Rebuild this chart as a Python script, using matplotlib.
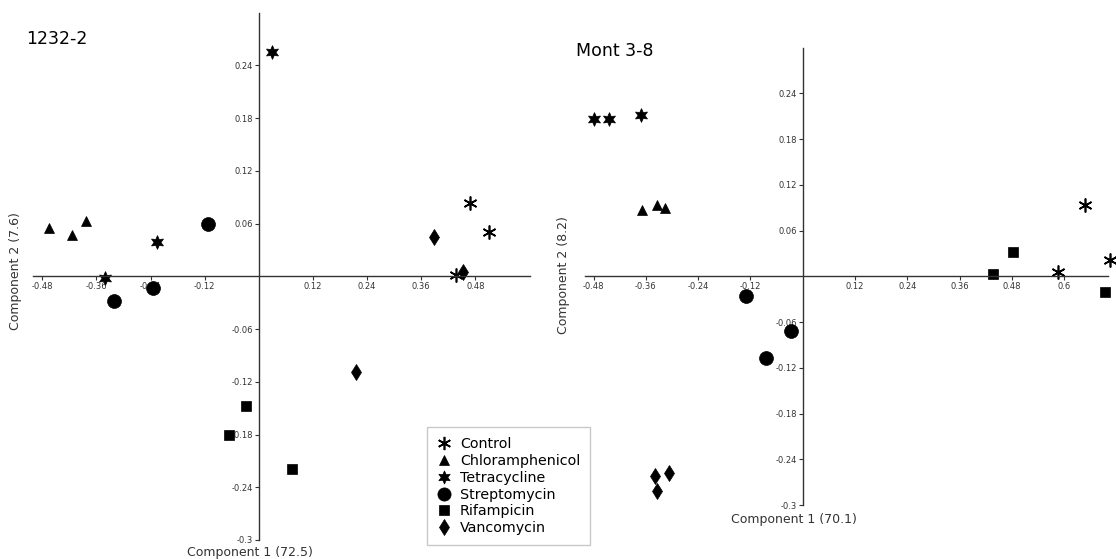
import matplotlib as mpl
mpl.use('Agg')
import matplotlib.pyplot as plt
from matplotlib.lines import Line2D

# treatments, marker per treatment
groups = ["Control", "Chloramphenicol", "Tetracycline", "Streptomycin", "Rifampicin", "Vancomycin"]
markers = [(6, 2, 0), '^', (6, 1, 0), 'o', 's', 'd']
msizes = [10, 7.5, 10, 10, 7.8, 8.6]

# panel 1232-2 (component 1 / component 2 scores)
a_x = {
    "Control": [0.469, 0.509, 0.436],
    "Chloramphenicol": [-0.464, -0.413, -0.382],
    "Tetracycline": [0.029, -0.226, -0.342],
    "Streptomycin": [-0.113, -0.322, -0.234],
    "Rifampicin": [-0.029, -0.067, 0.073],
    "Vancomycin": [0.388, 0.452, 0.215],
}
a_y = {
    "Control": [0.084, 0.0505, 0.002],
    "Chloramphenicol": [0.055, 0.047, 0.063],
    "Tetracycline": [0.255, 0.039, -0.0015],
    "Streptomycin": [0.060, -0.0285, -0.013],
    "Rifampicin": [-0.148, -0.181, -0.2195],
    "Vancomycin": [0.045, 0.005, -0.109],
}

# panel Mont 3-8
b_x = {
    "Control": [0.648, 0.705, 0.585],
    "Chloramphenicol": [-0.368, -0.334, -0.316],
    "Tetracycline": [-0.479, -0.445, -0.371],
    "Streptomycin": [-0.130, -0.027, -0.084],
    "Rifampicin": [0.4825, 0.437, 0.693],
    "Vancomycin": [-0.340, -0.306, -0.334],
}
b_y = {
    "Control": [0.0937, 0.022, 0.006],
    "Chloramphenicol": [0.0867, 0.0933, 0.0898],
    "Tetracycline": [0.206, 0.206, 0.2116],
    "Streptomycin": [-0.026, -0.0714, -0.107],
    "Rifampicin": [0.032, 0.0026, -0.0206],
    "Vancomycin": [-0.262, -0.258, -0.282],
}

a_xticks = [-0.48, -0.36, -0.24, -0.12, 0.12, 0.24, 0.36, 0.48]
b_xticks = [-0.48, -0.36, -0.24, -0.12, 0.12, 0.24, 0.36, 0.48, 0.6]
yticks = [-0.3, -0.24, -0.18, -0.12, -0.06, 0.06, 0.12, 0.18, 0.24]


def lab(v):
    return ("%g" % v)


def panel(ax, xs, ys, xlim, xticks):
    for g, m, ms in zip(groups, markers, msizes):
        ax.plot(xs[g], ys[g], linestyle='none', marker=m, markersize=ms,
                color='black', markeredgewidth=1.2 if m == (6, 2, 0) else 0.5,
                clip_on=False)
    ax.set_xlim(xlim)
    ax.set_ylim(-0.3, 0.3)
    for s in ['top', 'right']:
        ax.spines[s].set_visible(False)
    ax.spines['left'].set_position(('data', 0))
    ax.spines['bottom'].set_position(('data', 0))
    for s in ['left', 'bottom']:
        ax.spines[s].set_color('#333333')
        ax.spines[s].set_linewidth(1)
    ax.set_xticks(xticks)
    ax.set_xticklabels([lab(v) for v in xticks])
    ax.set_yticks(yticks)
    ax.set_yticklabels([lab(v) for v in yticks])
    ax.tick_params(direction='out', length=3, width=0.8, pad=1,
                   labelsize=6, colors='#333333')
    ax.patch.set_visible(False)


fig = plt.figure(figsize=(11.16, 5.59), dpi=100)
ax1 = fig.add_axes([0.02975, 0.034, 0.4448, 0.9433])
ax2 = fig.add_axes([0.524, 0.0966, 0.4687, 0.818])

panel(ax1, a_x, a_y, (-0.5, 0.6), a_xticks)
panel(ax2, b_x, b_y, (-0.5, 0.7), b_xticks)

fig.text(26 / 1116, 1 - 39 / 559, "1232-2", fontsize=12.5, va='center', ha='left')
fig.text(576 / 1116, 1 - 51 / 559, "Mont 3-8", fontsize=12.5, va='center', ha='left')

fig.text(250 / 1116, 1 - 552.5 / 559, "Component 1 (72.5)", fontsize=9,
         ha='center', va='center', color='#333333')
fig.text(794 / 1116, 1 - 519.5 / 559, "Component 1 (70.1)", fontsize=9,
         ha='center', va='center', color='#333333')
fig.text(16 / 1116, 1 - 271 / 559, "Component 2 (7.6)", fontsize=9, rotation=90,
         ha='center', va='center', color='#333333')
fig.text(563 / 1116, 1 - 275 / 559, "Component 2 (8.2)", fontsize=9, rotation=90,
         ha='center', va='center', color='#333333')

handles = [Line2D([], [], linestyle='none', marker=m, markersize=ms * 0.95,
                  color='black', markeredgewidth=1.2 if m == (6, 2, 0) else 0.5)
           for m, ms in zip(markers, msizes)]
leg = fig.legend(handles, groups, loc='upper left',
                 bbox_to_anchor=(427 / 1116, 1 - 427 / 559),
                 fontsize=10.3, frameon=True, fancybox=False,
                 labelspacing=0.2, handlelength=1.0, handletextpad=0.6,
                 borderpad=0.7, borderaxespad=0)
leg.get_frame().set_edgecolor('#bbbbbb')
leg.get_frame().set_linewidth(1)

fig.savefig('out.png', dpi=100)
